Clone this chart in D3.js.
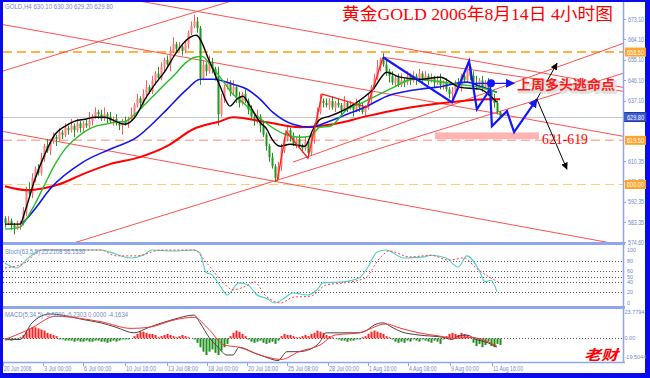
<!DOCTYPE html>
<meta charset="utf-8">
<script src="https://cdn.jsdelivr.net/npm/d3@7/dist/d3.min.js"></script>
<style>
body{margin:0;background:#fff;}
svg text{font-family:"Liberation Sans",Arial,sans-serif;}
.ax{fill:#6f88cc;font-size:7px;}
</style>
<div id="vis"></div>
<script>

// ---- price bars (4H), close of each bar; open = previous close ----
const firstOpen = 585;
const closes = [583,584,582,581,582,583,
  588,598,596,603,607,605,612,617,615,619,621,620,623,622,625,624,626,624,627,625,
  627,626,628,630,632,631,629,631,630,628,629,627,626,628,627,629,631,635,638,636,
  640,643,641,646,649,647,652,655,653,659,662,660,661,659,662,667,670,672,669,647,
  653,650,654,651,648,631,
  638,643,645,641,643,639,636,640,637,633,
  630,628,630,626,622,617,612,608,603,608,
  615,620,624,621,618,620,617,616,619,614,
  620,626,632,637,636,635,637,634,636,635,
  633,636,634,635,633,636,634,632,634,638,
  643,647,652,655,653,650,648,645,647,644,
  646,645,648,646,648,647,649,647,648,646,
  647,645,646,644,645,642,640,641,645,643,
  648,646,652,648,645,644,646,643,645,641,
  638,636,632,629.8];
const wickHi = [1,2,1,1,2,1,2,1,3,2, 1,2,2,1,3,1,2,1,2,1, 2,1,3,1,2,1,1,2,4,1,
  2,1,2,3,1,2,1,2,1,1, 2,1,3,1,2,1,2,3,1,2, 1,3,2,1,2,2,3,1,2,1,
  2,1,2,3,2,1,2,1,3,2, 1,4,2,1,2,1,3,1,2,1, 2,1,2,1,3,1,2,1,1,2,
  1,2,3,1,2,1,2,1,2,1, 2,1,2,1,2,3,1,2,1,2, 1,2,1,3,1,2,1,2,1,2,
  1,2,1,2,3,1,3,2,1,2, 1,2,3,1,2,1,2,1,2,1, 2,1,2,1,2,3,1,2,1,2,
  1,2,1,2,2,1,2,3,1,2, 1,2,1,2,1,0.5];
const wickLo = [2,1,2,3,1,2,1,2,1,2, 2,1,1,2,1,2,1,3,1,2, 1,2,1,3,1,2,2,1,1,2,
  1,2,1,1,3,1,2,1,2,4, 1,2,1,2,1,2,1,2,1,1, 2,1,1,2,1,3,1,2,1,2,
  1,2,1,1,2,3,1,2,1,2, 2,5,1,2,1,2,1,3,2,1, 1,2,1,2,1,3,1,2,2,1,
  2,1,2,1,1,2,1,2,1,2, 1,2,1,2,1,1,2,1,2,1, 2,1,2,1,2,1,3,1,2,1,
  2,1,2,1,1,2,1,2,3,1, 2,1,1,2,1,2,1,3,1,2, 1,2,1,2,1,2,2,1,2,3,
  2,1,2,1,1,2,1,2,1,2, 1,2,1,2,1,0.6];

// ---- moving averages: [bar index, price] ----
const maBlack = [[0,582.5],[5,582.5],[6.7,588.3],[10,602.4],[13.3,613.4],[16.7,622.2],[20,625.7],
  [23.3,628],[26.7,628.8],[30,629.7],[33.3,629.7],[36.7,628],[40,626.6],[43.3,629.7],[46.7,637.7],
  [50,644.3],[53.3,650],[56.7,657.5],[60,663.2],[63.7,665.9],[68.3,654],[71.7,643.4],[75,634.6],
  [77.3,637.7],[79.3,639],[81.7,634.6],[85,627.5],[87.3,624.4],[89,620],[91.7,616.9],[95,617.8],
  [100,616.9],[102.7,624.4],[105,628.8],[108.3,630.2],[117.3,636.3],[122.7,642.1],[127.3,649.6],
  [131.7,647.4],[138.3,646.5],[145,647.4],[151.7,642.9],[158.3,642.1],[164,636.3]];
const maGreen = [[0,580.3],[5,581.2],[6.7,583.9],[10,591.4],[13.3,600.2],[16.7,609],[20,615.6],
  [23.3,620],[26.7,623.5],[30,625.7],[33.3,626.6],[36.7,627.5],[40,627.9],[43.3,631],[46.7,635.4],
  [50,639.9],[53.3,644.3],[56.7,648.7],[60,653.5],[63.3,656.2],[65.7,656.6],[68.3,653.1],[71.7,647.4],
  [76,639.9],[80,635.4],[83.3,631],[86.7,627.5],[90,624.4],[93.3,622.2],[98.3,620.9],[101.7,621.3],
  [105,625.3],[108.3,625.7],[114,633.2],[119.3,636.3],[128.3,642.1],[136,646.5],[144,645.6],
  [150.7,644.3],[158.3,642.9],[164,640.7]];
const maBlue = [[5.7,582.5],[10,589.2],[15,598],[26,609.9],[35,615.6],[44,620.9],[50.7,628.8],
  [54,633.2],[60.7,642.1],[65,646.5],[69.3,646.5],[76,644.3],[80.7,642.1],[85,637.7],[89.3,631.9],
  [96,626.6],[101.7,625.3],[107.3,627.5],[114,631],[120.7,634.6],[127.3,639],[134,641.2],
  [138.3,642.1],[144,643],[154,645.2],[158.3,643.4],[164,640.7]];
const maRed = [[0,599.2],[7.3,597.5],[18.3,600.2],[26,604.6],[35,609],[45,612.1],[54,616.9],
  [62.7,624.4],[71.7,627.9],[76,629.7],[87.3,627.5],[98.3,625.3],[109.3,626.6],[120.7,630.2],
  [131.7,633.2],[148.3,636.3],[160.7,637.7],[165,637.7]];

// ---- stochastic ----
const stochIdx = [0,4,7,11,13,21,32,35,42,46,49,56,63,65,67,69,72,74,78,81,84,87,90,93,96,101,104,106,113,118,121,124,127,133,140,142,147,151,154,158,160,162,164];
const stochK   = [75,66,81,98,100,100,100,96,85,90,100,98,100,94,58,53,30,15,38,34,15,9,0,9,19,15,25,38,40,47,68,96,100,85,87,90,85,68,89,62,40,43,21];
const signalIdx = [0,7,12,21,32,37,44,52,63,67,72,76,81,83,87,92,96,102,107,113,120,125,128,135,142,148,153,157,162,165];
const stochD    = [66,77,100,100,100,89,89,100,100,77,43,25,34,40,13,0,11,13,34,38,47,85,98,87,90,81,85,66,47,38];
const stochLevels = [80,60,50,40,20];
const stochTicks = [100,80,60,50,40,20,0];

// ---- MACD ----
const macdIdx = [0,5,9,15,21,26,32,37,43,48,56,63,65,68,71,74,76,78,83,87,91,94,98,103,105,107,113,118,121,123,126,129,132,138,146,149,151,154,157,161,164];
const macdLine = [-1.3,-1,14,22,20,17,14,10,5,10,17,21,14,1,-8,-15,-15,-8,-13,-17,-20,-12,-12,-8,-3,5,5,5,8,12,14,10,6,3,1,-1,2,3,-1,-4,-8];
const sigIdx = [0,8,17,25,32,42,48,57,63,68,73,78,85,92,98,105,110,118,127,132,138,145,150,155,160,164];
const macdSignal = [-1,8,20,18,15,9,10,17,19,8,-6,-8,-15,-19,-12,-6,3,5,13,9,5,2,0,1,-2,-7];
const macdHist = [-1,-1,-2,-1,-1,
  1,3,6,9,10,10,9,8,7,5,4,3,2,
  -1,-1,-2,-2,-2,-3,-2,-3,-3,-2,-3,-3,-2,-2,-3,-3,-4,-3,-2,-3,-2,-1,-1,-1,0,
  2,4,6,6,5,4,4,3,
  1,2,3,4,3,2,1,2,3,2,1,
  0,-1,-4,-8,-12,-15,-12,-10,-13,-15,-11,-8,-5,
  2,5,7,6,4,2,
  -1,-3,-4,-3,-2,-4,-5,-4,-3,-5,-2,
  2,4,3,3,2,1,1,2,3,2,4,5,7,6,5,3,
  2,1,0,
  -1,-2,-2,-3,-2,-2,-1,-1,
  1,2,4,6,7,6,5,4,2,1,
  -1,-3,-4,-3,-4,-2,-3,-1,-2,-3,-1,-2,-3,-4,-2,-3,-5,
  -1,2,4,5,4,3,5,4,3,1,
  -4,-7,-5,-8,-6,-3,-7,-8,-5,-6];
const macdTicks = [23.7794, 0, -19.5044];
const macdTickText = ["23.7794","0.00","-19.5044"];

// ---- axes ----
const priceTicks = [673.10,664.10,655.10,646.10,637.10,610.35,601.35,592.35,583.35,574.60];
const timeLabels = ["20 Jun 2006","3 Jul 00:00","6 Jul 00:00","10 Jul 16:00","13 Jul 08:00","18 Jul 00:00",
  "20 Jul 16:00","25 Jul 08:00","28 Jul 00:00","1 Aug 16:00","4 Aug 08:00","9 Aug 00:00","11 Aug 16:00"];
const timeIdx = [-0.7,12.7,26,40,54,67.3,80.7,94,107.7,121,134.3,148.3,162.3];

// ---- drawn annotations, in [bar index, price] ----
const levelLines = [658.5, 619.5, 600.0];
const levelText = ["658.50","619.50","600.00"];
const lastPrice = 629.8;
const trendLines = [
  [[42,681.7],[206,642.9]],
  [[-1,670.7],[206,621.3]],
  [[-1,623.5],[206,573.2]],
  [[-1,650.0],[77,681.7]],
  [[23,574.2],[206,649.1]],
  [[96,609.9],[206,662.3]],
  [[126,656.2],[206,641.2]]
];
const redZig = [[90.7,601.5],[93.7,623.5],[101,611.6],[105.7,639.9],[120.7,634.1],[126,656.2]];
const blueZig = [[126,656.2],[149,636.3],[154.7,654.4],[157.3,633.2],[161.7,642.1],[162.3,625.7],
  [167.3,632.4],[169.7,623.1],[177.3,637.7]];
const blackArrows = [[[177.3,637.7],[184,653.5]], [[177.3,637.7],[187.3,606.8]]];
const escapePoint = [162, 644.7];
const escapeArrow = [[155.7,644.7],[169.7,644.7]];
const zoneBox = {i0:143.3, i1:178, p0:620, p1:623};

const W = 650, H = 378;
const svg = d3.select("#vis").append("svg").attr("width", W).attr("height", H);

// window frame
svg.append("rect").attr("width", W).attr("height", H).attr("fill", "#0a0af0");
svg.append("rect").attr("x", 3).attr("y", 2).attr("width", 642).attr("height", 371).attr("fill", "#fff");

// scales
const x = d3.scaleLinear().domain([0, 165]).range([5, 500]);
const yP = d3.scaleLinear().domain([574.6, 673.1]).range([242, 19]);
const yS = d3.scaleLinear().domain([0, 100]).range([303, 250]);
const yM = d3.scaleLinear().domain([-19.5044, 23.7794]).range([360, 312]);

const defs = svg.append("defs");
[["cMain",3,2,620,241],["cSto",3,246,620,60],["cMacd",3,310,620,52]].forEach(c => {
  defs.append("clipPath").attr("id", c[0]).append("rect")
    .attr("x", c[1]).attr("y", c[2]).attr("width", c[3]).attr("height", c[4]);
});
function marker(id, col, s) {
  defs.append("marker").attr("id", id).attr("viewBox", "0 0 10 10")
    .attr("refX", 9).attr("refY", 5).attr("markerUnits", "userSpaceOnUse")
    .attr("markerWidth", s).attr("markerHeight", s).attr("orient", "auto")
    .append("path").attr("d", "M0,0 L10,5 L0,10 z").attr("fill", col);
}
marker("ahBlue", "#1414ff", 9);
marker("ahBlack", "#000", 7);

const main = svg.append("g").attr("clip-path", "url(#cMain)");
const lineP = d3.line().x(d => x(d[0])).y(d => yP(d[1]));

// level lines
const levelStyle = [["#ffb347",2],["#ffb0a0",1.5],["#ffcc70",1]];
levelLines.forEach((v, k) => {
  main.append("line").attr("x1", 3).attr("x2", 623).attr("y1", yP(v)).attr("y2", yP(v))
    .attr("stroke", levelStyle[k][0]).attr("stroke-width", levelStyle[k][1]).attr("stroke-dasharray", "9,5");
});
main.append("line").attr("x1", 3).attr("x2", 623).attr("y1", Math.round(yP(lastPrice)) + 0.5)
  .attr("y2", Math.round(yP(lastPrice)) + 0.5).attr("stroke", "#c8c8c8");

// zone box
main.append("rect").attr("x", x(zoneBox.i0)).attr("y", yP(zoneBox.p1))
  .attr("width", x(zoneBox.i1) - x(zoneBox.i0)).attr("height", yP(zoneBox.p0) - yP(zoneBox.p1))
  .attr("fill", "#ffb4b4");

// trend lines
main.selectAll(".tl").data(trendLines).enter().append("path")
  .attr("d", lineP).attr("fill", "none").attr("stroke", "#ff5050").attr("stroke-width", 1);

// candles
const bars = closes.map((c, i) => {
  const o = i ? closes[i - 1] : firstOpen;
  return {i, o, c, h: Math.max(o, c) + wickHi[i], l: Math.min(o, c) - wickLo[i]};
});
const cg = main.append("g");
bars.forEach(d => {
  const cx = Math.round(x(d.i));
  const up = d.c >= d.o;
  const col = up ? "#ff5a5a" : "#1f961f";
  cg.append("line").attr("x1", cx + 0.5).attr("x2", cx + 0.5).attr("y1", yP(d.h)).attr("y2", yP(d.l))
    .attr("stroke", col).attr("stroke-width", 1);
  const top = yP(Math.max(d.o, d.c)), bot = yP(Math.min(d.o, d.c));
  cg.append("rect").attr("x", cx - 0.5).attr("width", 2).attr("y", top)
    .attr("height", Math.max(1, bot - top)).attr("fill", up ? "#ff7a7a" : "#1f961f");
});

// moving averages
const maLine = d3.line().x(d => x(d[0])).y(d => yP(d[1])).curve(d3.curveMonotoneX);
[[maRed,"#ff0000",2],[maBlue,"#1414f0",1.6],[maGreen,"#22c022",1.4],[maBlack,"#000",1.4]].forEach(m => {
  main.append("path").attr("d", maLine(m[0])).attr("fill", "none")
    .attr("stroke", m[1]).attr("stroke-width", m[2]);
});

// zigzags and arrows
main.append("path").attr("d", lineP(redZig)).attr("fill", "none").attr("stroke", "#ff2020").attr("stroke-width", 1.3);
main.append("path").attr("d", lineP(blueZig)).attr("fill", "none").attr("stroke", "#1414ff")
  .attr("stroke-width", 2.2).attr("marker-end", "url(#ahBlue)");
blackArrows.forEach(a => {
  main.append("path").attr("d", lineP(a)).attr("fill", "none").attr("stroke", "#000")
    .attr("stroke-width", 1).attr("marker-end", "url(#ahBlack)");
});
main.append("path").attr("d", lineP(escapeArrow)).attr("fill", "none").attr("stroke", "#1414ff")
  .attr("stroke-width", 1.3).attr("marker-end", "url(#ahBlue)");
main.append("circle").attr("cx", x(escapePoint[0])).attr("cy", yP(escapePoint[1])).attr("r", 4).attr("fill", "#1414ff");

// annotation texts
svg.append("text").attr("x", 342).attr("y", 20).attr("textLength", 271).attr("lengthAdjust", "spacingAndGlyphs")
  .style("font-family", "'Liberation Serif','Noto Sans CJK SC',serif").style("font-size", "17px")
  .attr("fill", "#ff0000").text("黄金GOLD 2006年8月14日 4小时图");
svg.append("text").attr("x", 518.5).attr("y", 90.5).attr("textLength", 98).attr("lengthAdjust", "spacingAndGlyphs")
  .style("font-family", "'Noto Sans CJK SC',sans-serif").style("font-size", "13px").style("font-weight", "bold")
  .attr("fill", "#c8c8c8").attr("stroke", "#e0e0e0").attr("stroke-width", 2).text("上周多头逃命点");
svg.append("text").attr("x", 517).attr("y", 89).attr("textLength", 98).attr("lengthAdjust", "spacingAndGlyphs")
  .style("font-family", "'Noto Sans CJK SC',sans-serif").style("font-size", "13px").style("font-weight", "bold")
  .attr("fill", "#ff1a1a").text("上周多头逃命点");
svg.append("text").attr("x", 542).attr("y", 144).attr("textLength", 46).attr("lengthAdjust", "spacingAndGlyphs")
  .style("font-family", "'Liberation Serif',serif").style("font-size", "15px")
  .attr("fill", "#ff0000").text("621-619");
svg.append("text").attr("x", 584).attr("y", 360).attr("textLength", 34).attr("lengthAdjust", "spacingAndGlyphs")
  .style("font-family", "'Noto Sans CJK SC',sans-serif").style("font-size", "14px").style("font-weight", "bold")
  .style("font-style", "italic").attr("fill", "#ff0000").text("老财");
svg.append("text").attr("class", "ax").attr("x", 5).attr("y", 9).attr("textLength", 108)
  .attr("lengthAdjust", "spacingAndGlyphs").text("GOLD,H4 630.10 630.30 629.20 629.80");

// price axis
priceTicks.forEach(v => {
  svg.append("line").attr("x1", 623).attr("x2", 626).attr("y1", Math.round(yP(v)) + 0.5)
    .attr("y2", Math.round(yP(v)) + 0.5).attr("stroke", "#8ea6ee");
  svg.append("text").attr("class", "ax").attr("x", 628).attr("y", yP(v) + 2.5)
    .attr("textLength", 16).attr("lengthAdjust", "spacingAndGlyphs").text(v.toFixed(2));
});
levelLines.forEach((v, k) => {
  svg.append("rect").attr("x", 625).attr("y", yP(v) - 4.5).attr("width", 21).attr("height", 9).attr("fill", "#ffa52e");
  svg.append("text").attr("class", "ax").style("fill", "#fff").attr("x", 627).attr("y", yP(v) + 2.5)
    .attr("textLength", 17).attr("lengthAdjust", "spacingAndGlyphs").text(levelText[k]);
});
svg.append("rect").attr("x", 624).attr("y", yP(lastPrice) - 4.5).attr("width", 22).attr("height", 9)
  .attr("fill", "#3d5bd6").attr("stroke", "#203a9a");
svg.append("text").attr("class", "ax").style("fill", "#fff").attr("x", 627).attr("y", yP(lastPrice) + 2.5)
  .attr("textLength", 17).attr("lengthAdjust", "spacingAndGlyphs").text(lastPrice.toFixed(2));

// stochastic panel
const sto = svg.append("g").attr("clip-path", "url(#cSto)");
stochLevels.forEach(v => {
  sto.append("line").attr("x1", 3).attr("x2", 623).attr("y1", Math.round(yS(v)) + 0.5).attr("y2", Math.round(yS(v)) + 0.5)
    .attr("stroke", "#555").attr("stroke-dasharray", "1,2");
});
const sLine = d3.line().x(d => x(d[0])).y(d => yS(d[1])).curve(d3.curveMonotoneX);
sto.append("path").attr("d", sLine(stochIdx.map((v, k) => [v, stochK[k]])))
  .attr("fill", "none").attr("stroke", "#4fd0c8").attr("stroke-width", 1.1);
sto.append("path").attr("d", sLine(signalIdx.map((v, k) => [v, stochD[k]])))
  .attr("fill", "none").attr("stroke", "#ff4040").attr("stroke-width", 1).attr("stroke-dasharray", "2,2");
svg.append("text").attr("class", "ax").attr("x", 5).attr("y", 254).attr("textLength", 80)
  .attr("lengthAdjust", "spacingAndGlyphs").text("Stoch(63,5,5) 25.2108 36.1536");
stochTicks.forEach(v => {
  svg.append("text").attr("class", "ax").style("font-size", "5.5px").attr("x", 627).attr("y", yS(v) + 2).text(v);
});

// MACD panel
const mg = svg.append("g").attr("clip-path", "url(#cMacd)");
macdHist.forEach((v, i) => {
  if (v === 0) return;
  mg.append("rect").attr("x", Math.round(x(i)) - 0.5).attr("width", 2)
    .attr("y", Math.min(yM(0), yM(v))).attr("height", Math.abs(yM(v) - yM(0)))
    .attr("fill", v > 0 ? "#ff2020" : "#1a901a");
});
mg.append("line").attr("x1", 3).attr("x2", 623).attr("y1", Math.round(yM(0)) + 0.5).attr("y2", Math.round(yM(0)) + 0.5)
  .attr("stroke", "#555").attr("stroke-dasharray", "1,2");
const mLine = d3.line().x(d => x(d[0])).y(d => yM(d[1])).curve(d3.curveMonotoneX);
mg.append("path").attr("d", mLine(macdIdx.map((v, k) => [v, macdLine[k]])))
  .attr("fill", "none").attr("stroke", "#444").attr("stroke-width", 1);
mg.append("path").attr("d", mLine(sigIdx.map((v, k) => [v, macdSignal[k]])))
  .attr("fill", "none").attr("stroke", "#ff3030").attr("stroke-width", 1);
svg.append("text").attr("class", "ax").attr("x", 5).attr("y", 317).attr("textLength", 123)
  .attr("lengthAdjust", "spacingAndGlyphs").text("MACD(5,34,5) -5.5800 -6.2303 0.0000 -4.1634");
macdTicks.forEach((v, k) => {
  svg.append("text").attr("class", "ax").style("font-size", "5.5px").attr("x", 624.5)
    .attr("y", Math.min(yM(v) + 2, 359)).text(macdTickText[k]);
});

// panel separators, right axis, time axis
[[243.5,3],[307.5,3],[362.5,1.5]].forEach(s => {
  svg.append("line").attr("x1", 3).attr("x2", 625).attr("y1", s[0]).attr("y2", s[0])
    .attr("stroke", "#8ea6ee").attr("stroke-width", s[1]);
});
svg.append("line").attr("x1", 623.5).attr("x2", 623.5).attr("y1", 2).attr("y2", 363)
  .attr("stroke", "#8ea6ee").attr("stroke-width", 1.5);
timeLabels.forEach((t, k) => {
  const tx = Math.round(x(timeIdx[k]));
  svg.append("line").attr("x1", tx + 0.5).attr("x2", tx + 0.5).attr("y1", 363).attr("y2", 366).attr("stroke", "#8ea6ee");
  svg.append("text").attr("class", "ax").attr("x", tx + 1).attr("y", 371)
    .attr("textLength", t.length * 2.5).attr("lengthAdjust", "spacingAndGlyphs").text(t);
});

</script>
